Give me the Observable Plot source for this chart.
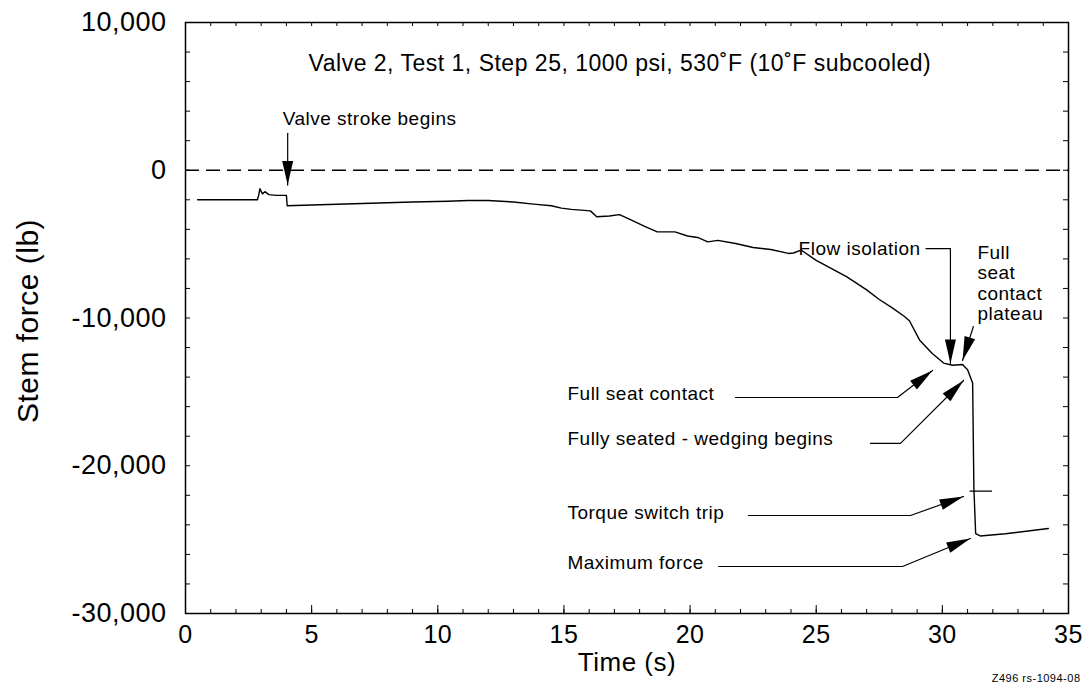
<!DOCTYPE html>
<html><head><meta charset="utf-8">
<script src="https://cdn.jsdelivr.net/npm/d3@7"></script>
<script src="https://cdn.jsdelivr.net/npm/@observablehq/plot@0.6"></script>
<style>
body{margin:0;background:#fff}
svg text{letter-spacing:0.5px}
</style></head><body><div id="chart"></div>
<script>
// ---- data ----
const timeS = [0.48, 2.85, 2.9, 2.95, 3.05, 3.15, 3.3, 3.6, 4.0, 4.03, 5.0, 6.0, 7.0, 8.0, 9.0, 10.4, 11.2, 12.0, 13.0, 13.8, 14.5, 14.9, 15.3, 16.05, 16.3, 16.8, 17.2, 17.7, 18.2, 18.7, 19.4, 19.9, 20.3, 20.7, 21.1, 21.8, 22.5, 23.2, 23.9, 24.1, 24.4, 25.0, 25.7, 26.2, 27.0, 27.5, 28.0, 28.5, 28.7, 29.1, 29.6, 30.05, 30.4, 30.8, 31.0, 31.2, 31.25, 31.32, 31.5, 32.5, 34.2];
const stemForceLb = [-2000, -2000, -1700, -1250, -1600, -1450, -1650, -1700, -1700, -2400, -2350, -2300, -2250, -2200, -2150, -2100, -2050, -2050, -2150, -2290, -2400, -2560, -2650, -2750, -3150, -3100, -3000, -3400, -3800, -4170, -4170, -4450, -4550, -4850, -4750, -4960, -5230, -5360, -5630, -5600, -5400, -6100, -6750, -7200, -8100, -8750, -9300, -9900, -10200, -11500, -12400, -13050, -13200, -13150, -13500, -14400, -21500, -24600, -24750, -24600, -24250];
const xTicks = [0, 5, 10, 15, 20, 25, 30, 35];
const yTicks = [10000, 0, -10000, -20000, -30000];
const xMinorTicks = d3.range(0, 35.01, 1);
const yMinorTicks = d3.range(-30000, 10001, 2000);
const titleText = "Valve 2, Test 1, Step 25, 1000 psi, 530˚F (10˚F subcooled)";
const xLabel = "Time (s)";
const yLabel = "Stem force (lb)";
const captionText = "Z496 rs-1094-08";

// annotation texts (left-anchored) and their anchor points [time, force]
const noteText = ["Valve stroke begins", "Flow isolation", "Full\nseat\ncontact\nplateau", "Full seat contact", "Fully seated - wedging begins", "Torque switch trip", "Maximum force"];
const noteT = [3.85, 24.3, 31.39, 15.14, 15.14, 15.14, 15.14];
const noteF = [3500, -5300, -7630, -15100, -18150, -23160, -26550];

// leader lines ending in arrowheads, as [time, force] points
const arrowPaths = [
  [[4.05, 2500], [4.05, -1000]],
  [[29.35, -5300], [30.32, -5300], [30.32, -13080]],
  [[31.23, -10575], [30.8, -12876]],
  [[21.8, -15380], [28.22, -15380], [29.61, -13550]],
  [[27.15, -18490], [28.34, -18490], [30.84, -14230]],
  [[22.31, -23366], [28.74, -23366], [30.84, -22080]],
  [[21.13, -26820], [28.42, -26820], [31.11, -24920]]
];
// torque switch trip marker
const tripT = [31.1, 31.95];
const tripF = [-21720, -21720];

// ---- build ----
const W = 1089, H = 689;
const mL = 185, mR = 21, mT = 22, mB = 76;
const innerW = W - mL - mR, innerH = H - mT - mB;
const curve = timeS.map((t, i) => ({t, f: stemForceLb[i]}));
const leaders = arrowPaths.flatMap((p, k) => p.map(([t, f]) => ({k, t, f})));
const xs = Plot.scale({x: {domain: [0, 35], range: [mL, W - mR]}});
const ys = Plot.scale({y: {domain: [-30000, 10000], range: [H - mB, mT]}});
const heads = arrowPaths.map(p => {
  const [a, b] = p.slice(-2);
  const dx = xs.apply(b[0]) - xs.apply(a[0]);
  const dy = ys.apply(b[1]) - ys.apply(a[1]);
  return {t: b[0], f: b[1], angle: Math.atan2(dx, -dy) * 180 / Math.PI};
});
const arrowHead = {draw(ctx) { const L = 24, w = 11; ctx.moveTo(0, 0); ctx.lineTo(-w / 2, L); ctx.lineTo(w / 2, L); ctx.closePath(); }};
const fmt = d => d.toLocaleString("en-US");
const notes = noteText.map((s, i) => ({s, t: noteT[i], f: noteF[i]}));

const chart = Plot.plot({
  width: W, height: H,
  marginLeft: mL, marginRight: mR, marginTop: mT, marginBottom: mB,
  style: {fontFamily: "'Liberation Sans', Arial, sans-serif", background: "#fff", color: "#000"},
  x: {domain: [0, 35]},
  y: {domain: [-30000, 10000]},
  marks: [
    Plot.frame({stroke: "#000", strokeWidth: 1.5}),
    Plot.tickX(xMinorTicks, {x: d => d, insetTop: innerH - 4, stroke: "#000"}),
    Plot.tickX(xTicks, {x: d => d, insetTop: innerH - 8, stroke: "#000"}),
    Plot.tickX(xMinorTicks, {x: d => d, insetBottom: innerH - 4, stroke: "#000"}),
    Plot.tickY(yMinorTicks, {y: d => d, insetRight: innerW - 5, stroke: "#000"}),
    Plot.tickY(yMinorTicks, {y: d => d, insetLeft: innerW - 5, stroke: "#000"}),
    Plot.axisX({ticks: xTicks, tickSize: 0, tickPadding: 12, fontSize: 25, label: null}),
    Plot.axisY({ticks: yTicks, tickSize: 0, tickPadding: 19, fontSize: 27, tickFormat: fmt, label: null}),
    Plot.ruleY([0], {stroke: "#000", strokeWidth: 1.3, strokeDasharray: "14,7"}),
    Plot.line(curve, {x: "t", y: "f", stroke: "#000", strokeWidth: 1.4}),
    Plot.line(tripT.map((t, i) => ({t, f: tripF[i]})), {x: "t", y: "f", stroke: "#000", strokeWidth: 1.2}),
    Plot.line(leaders, {x: "t", y: "f", z: "k", stroke: "#000", strokeWidth: 1.2}),
    Plot.dot(heads, {x: "t", y: "f", rotate: "angle", symbol: arrowHead, fill: "#000", stroke: "none"}),
    Plot.text(notes, {x: "t", y: "f", text: "s", textAnchor: "start", fontSize: 19, lineHeight: 1.07, fill: "#000"}),
    Plot.text([titleText], {x: 4.88, y: 7225, textAnchor: "start", fontSize: 23, fill: "#000"}),
    Plot.text([xLabel], {frameAnchor: "bottom", textAnchor: "middle", lineAnchor: "middle", dy: 49, fontSize: 26, fill: "#000"}),
    Plot.text([yLabel], {frameAnchor: "left", textAnchor: "middle", lineAnchor: "middle", dx: -157, dy: 3, rotate: -90, fontSize: 30, fill: "#000"}),
    Plot.text([captionText], {frameAnchor: "bottom-right", textAnchor: "end", lineAnchor: "middle", dx: 12, dy: 65, fontSize: 11, fill: "#000"})
  ]
});
document.getElementById("chart").append(chart);
</script></body></html>
